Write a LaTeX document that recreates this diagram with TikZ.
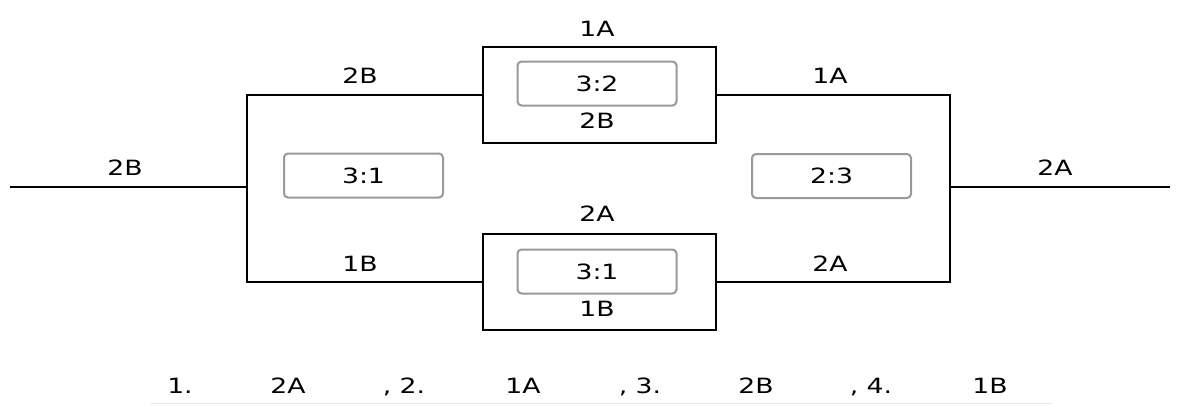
\documentclass[tikz,border=0pt]{standalone}
\usepackage{fontspec}
\setmainfont{DejaVu Sans}[FakeStretch=1.27]
\newcommand\lblfont{\fontsize{21}{22}\selectfont}
\begin{document}
\begin{tikzpicture}[x=1pt,y=-1pt,
  wire/.style={line width=1.6pt, black, line join=miter},
  block/.style={draw=black, line width=1.6pt, minimum width=233pt, minimum height=96pt, inner sep=0pt},
  ratio/.style={draw=black!40, line width=2pt, rounded corners=4pt, fill=white,
    minimum width=159pt, minimum height=44pt, inner sep=0pt, font=\lblfont},
  lbl/.style={font=\lblfont, inner sep=0pt, anchor=base},
]
\useasboundingbox (0,0) rectangle (1180,405);

% junction points of the bridge
\coordinate (in)  at (10,187);
\coordinate (out) at (1170,187);
\coordinate (lm)  at (247,187);
\coordinate (rm)  at (950,187);
\coordinate (tl)  at (247,95);
\coordinate (bl)  at (247,282);
\coordinate (tr)  at (950,95);
\coordinate (br)  at (950,282);

% upper and lower branch blocks
\node[block] (topblk) at (599.5,95) {};
\node[block] (botblk) at (599.5,282) {};

% wiring
\draw[wire] (in) -- (lm);
\draw[wire] (rm) -- (out);
\draw[wire] (topblk.west) -- (tl) -- (bl) -- (botblk.west);
\draw[wire] (topblk.east) -- (tr) -- (br) -- (botblk.east);

% ratio boxes
\node[ratio] (rtop)   at (597,83.5) {3:2};
\node[ratio] (rleft)  at (363.5,175.5) {3:1};
\node[ratio] (rright) at (831.5,176) {2:3};
\node[ratio] (rbot)   at (597,271.5) {3:1};

% wire labels
\node[lbl] (l1) at (597,36)   {1A};
\node[lbl] (l2) at (597,128)  {2B};
\node[lbl] (l3) at (360,83)   {2B};
\node[lbl] (l4) at (830,83)   {1A};
\node[lbl] (l5) at (125,175)  {2B};
\node[lbl] (l6) at (1055,175) {2A};
\node[lbl] (l7) at (597,221)  {2A};
\node[lbl] (l8) at (360,271)  {1B};
\node[lbl] (l9) at (830,271)  {2A};
\node[lbl] (l10) at (597,316) {1B};

% answer line
\node[lbl] (a1) at (180,393) {1.};
\node[lbl] (a2) at (288,393) {2A};
\node[lbl] (a3) at (404,393) {, 2.};
\node[lbl] (a4) at (523,393) {1A};
\node[lbl] (a5) at (640,393) {, 3.};
\node[lbl] (a6) at (756,393) {2B};
\node[lbl] (a7) at (871,393) {, 4.};
\node[lbl] (a8) at (990,393) {1B};
\coordinate (ul) at (150,403.5);
\coordinate (ur) at (1052,403.5);
\draw[black!8, line width=1pt] (ul) -- (ur);
\end{tikzpicture}
\end{document}
